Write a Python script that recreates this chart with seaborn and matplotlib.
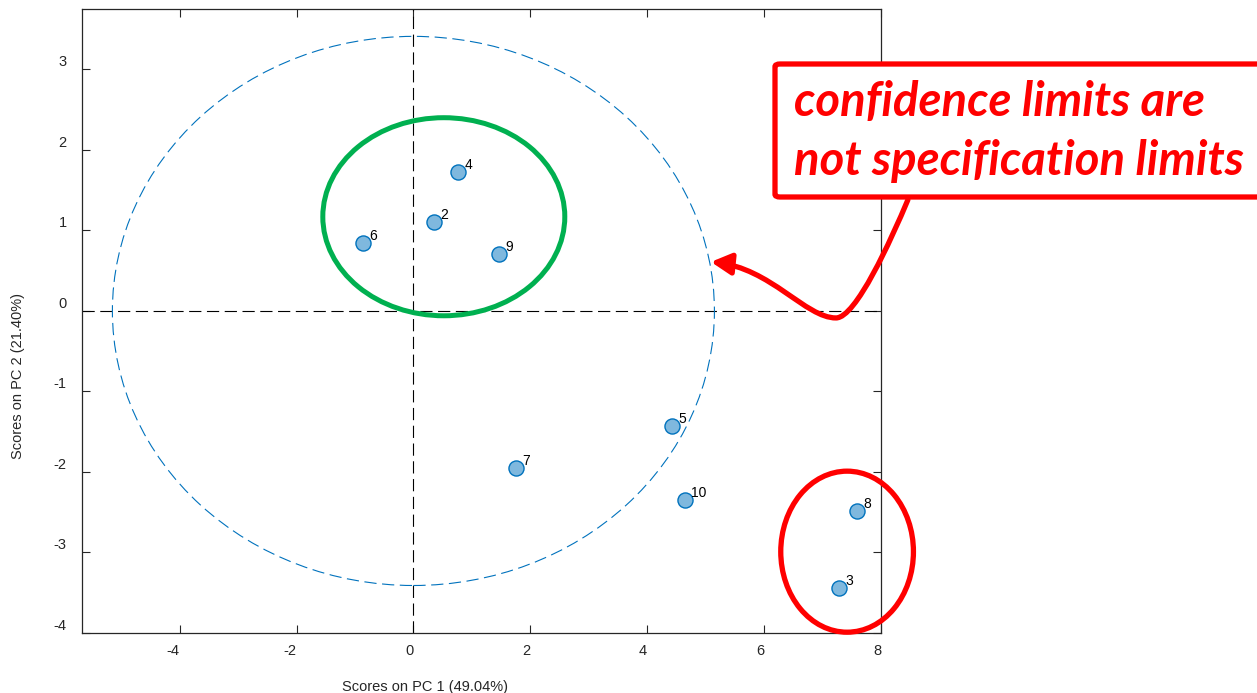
import numpy as np
import pandas as pd
import matplotlib
matplotlib.use("Agg")
import matplotlib.pyplot as plt
import seaborn as sns
from matplotlib.patches import Ellipse, FancyBboxPatch, FancyArrowPatch
from matplotlib.path import Path

# ---- data ----
samples = ["2", "3", "4", "5", "6", "7", "8", "9", "10"]
pc1 = [0.36, 7.28, 0.77, 4.42, -0.87, 1.76, 7.59, 1.46, 4.64]
pc2 = [1.11, -3.44, 1.73, -1.43, 0.84, -1.95, -2.48, 0.71, -2.35]
conf_a, conf_b = 5.15, 3.41          # 95% confidence ellipse semi-axes
xticks = [-4, -2, 0, 2, 4, 6, 8]
yticks = [-4, -3, -2, -1, 0, 1, 2, 3]
xlabel = "Scores on PC 1 (49.04%)"
ylabel = "Scores on PC 2 (21.40%)"
note = "confidence limits are\nnot specification limits"

df = pd.DataFrame({"PC1": pc1, "PC2": pc2, "sample": samples})

sns.set_style("ticks")
plt.rcParams["font.family"] = ["Liberation Sans", "DejaVu Sans"]
plt.rcParams["axes.unicode_minus"] = False

fig = plt.figure(figsize=(12.57, 6.93), dpi=100)
ax = fig.add_axes([82/1257, 60/693, 799/1257, 624/693])

dark = "#262626"
ax.set_xlim(-5.67, 8.0)
ax.set_ylim(-4.0, 3.75)

# crosshair
ax.axhline(0, color="black", lw=0.8, ls=(0, (11, 5)), zorder=1)
ax.axvline(0, color="black", lw=0.8, ls=(0, (11, 5)), zorder=1)

# confidence limit
ax.add_patch(Ellipse((0, 0), 2*conf_a, 2*conf_b, fill=False,
                     ec="#0072BD", lw=0.8, ls=(0, (11, 5)), zorder=2))

sns.scatterplot(data=df, x="PC1", y="PC2", ax=ax, s=118,
                color="#7FB8DE", edgecolor="#0072BD", linewidth=1.0,
                zorder=4, legend=False)
for xv, yv, lab in zip(pc1, pc2, samples):
    ax.annotate(lab, (xv, yv), xytext=(4.5, 5), textcoords="offset points",
                ha="left", va="center", fontsize=10, color="black", zorder=5)

# ticks
ax.set_xticks(xticks, [str(t) for t in xticks], ha="right")
ax.set_yticks(yticks, [str(t) for t in yticks], va="bottom")
ax.tick_params(direction="in", length=6, width=0.8, top=True, right=True,
               colors=dark, labelsize=10.5)
ax.tick_params(axis="x", pad=8)
ax.tick_params(axis="y", pad=11)
for sp in ax.spines.values():
    sp.set_visible(True)
    sp.set_color(dark)
    sp.set_linewidth(0.9)

ax.set_xlabel(xlabel, fontsize=10.5, color=dark)
ax.set_ylabel(ylabel, fontsize=10.5, color=dark)
ax.xaxis.set_label_coords((425-82)/799, (633-687)/624)
ax.xaxis.label.set_va("center")
ax.yaxis.set_label_coords((18-82)/799, (633-376)/624)
ax.yaxis.label.set_va("center")

# highlight ellipses
ax.add_patch(Ellipse((0.52, 1.17), 4.14, 2.46, fill=False, ec="#00B050",
                     lw=3.6, zorder=6, clip_on=False))
ax.add_patch(Ellipse((7.42, -2.99), 2.27, 2.0, fill=False, ec="#FF0000",
                     lw=3.8, zorder=6, clip_on=False))

# curved arrow from callout to confidence limit
verts = [(8.46, 1.38), (8.17, 0.88), (7.57, -0.087), (7.23, -0.087),
         (6.71, -0.087), (6.11, 0.534), (5.09, 0.609)]
codes = [Path.MOVETO, Path.CURVE4, Path.CURVE4, Path.CURVE4,
         Path.CURVE4, Path.CURVE4, Path.CURVE4]
arrow = FancyArrowPatch(path=Path(verts, codes), arrowstyle="-|>,head_length=0.6,head_width=0.32",
                        mutation_scale=20, color="#FF0000", lw=3.8,
                        transform=ax.transData, clip_on=False, zorder=7)
ax.add_patch(arrow)

# callout box
box = FancyBboxPatch((775/1257, (693-197)/693), 500/1257, 133/693,
                     boxstyle="round,pad=0,rounding_size=0.004",
                     transform=fig.transFigure, fc="white", ec="#FF0000",
                     lw=3.8, zorder=10, clip_on=False)
fig.patches.append(box)
fig.text(794/1257, (693-175)/693, note, color="#FF0000", fontsize=34,
         family=["Lato", "DejaVu Sans"], style="italic", weight="bold",
         ha="left", va="baseline", linespacing=1.42, zorder=11)

fig.savefig("out.png", dpi=100)
